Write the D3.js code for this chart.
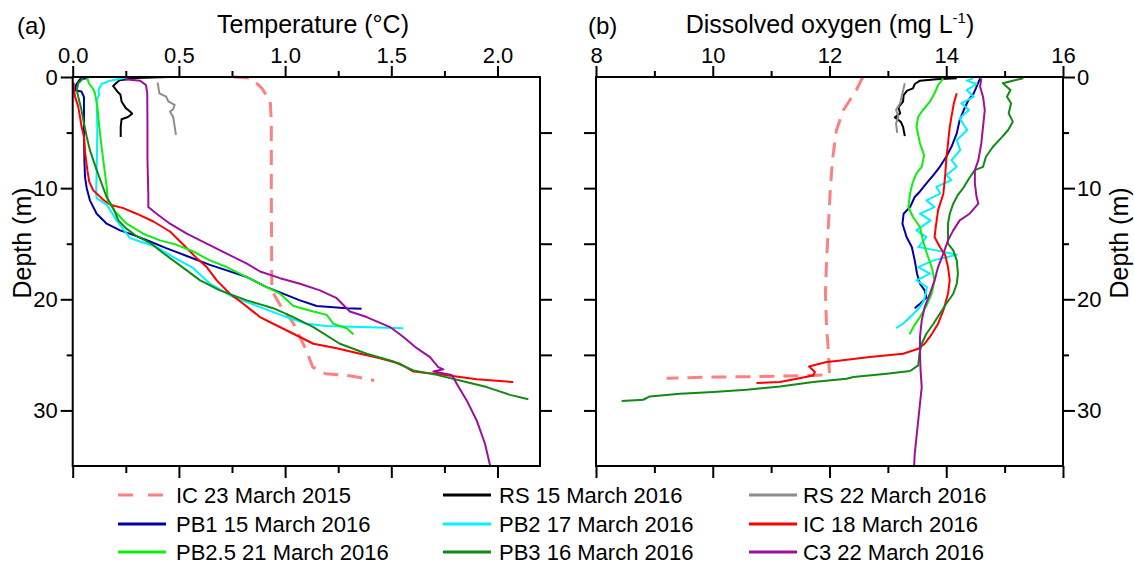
<!DOCTYPE html>
<html>
<head>
<meta charset="utf-8">
<script src="https://cdn.jsdelivr.net/npm/d3@7"></script>
<style>
  body { margin: 0; background: #fff; }
  svg { display: block; font-family: "Liberation Sans", Arial, sans-serif; }
</style>
</head>
<body>
<div id="chart"></div>
<script>
// Temperature profiles, each point is [temperature (°C), depth (m)]
var tIC2015 = [[0.76,0],[0.84,0.1],[0.89,1.0],[0.93,2.2],[0.935,4],[0.935,10],[0.937,18],[0.937,19.2],[0.976,20.5],[1.04,22.2],[1.10,24.6],[1.13,26.1],[1.19,26.7],[1.26,26.8],[1.31,26.9],[1.42,27.3]];
var tRS15 = [[0.45,0],[0.30,0.1],[0.22,0.3],[0.19,0.8],[0.21,1.3],[0.225,1.6],[0.23,2.2],[0.25,2.8],[0.27,3.1],[0.28,3.3],[0.26,3.6],[0.23,3.8],[0.226,4.5],[0.226,5.4]];
var tRS22 = [[0.40,0.5],[0.408,1.47],[0.44,1.77],[0.45,2.2],[0.48,2.5],[0.473,2.9],[0.458,3.1],[0.473,3.6],[0.478,4.2],[0.486,5.2]];
var tPB1 = [[0.074,0.1],[0.034,0.2],[0.016,0.7],[0.011,1.2],[0.041,1.3],[0.053,1.8],[0.053,4.5],[0.055,7.5],[0.058,9.0],[0.066,10.0],[0.081,11.1],[0.113,12.3],[0.16,13.2],[0.223,13.8],[0.285,14.2],[0.364,14.8],[0.44,15.4],[0.537,16.1],[0.646,16.9],[0.725,17.4],[0.82,18.0],[0.913,18.9],[1.07,20.1],[1.149,20.6],[1.29,20.8],[1.36,20.85]];
var tPB2 = [[0.262,0.03],[0.176,0.33],[0.136,0.63],[0.121,1.17],[0.125,1.62],[0.113,2.07],[0.116,4.48],[0.113,8.38],[0.11,10.5],[0.113,10.9],[0.16,11.5],[0.207,12.9],[0.27,14.5],[0.317,14.8],[0.395,15.3],[0.474,16.2],[0.568,17.2],[0.646,18.6],[0.756,19.8],[0.882,20.7],[1.007,21.6],[1.10,22.2],[1.196,22.4],[1.353,22.5],[1.557,22.6]];
var tIC18 = [[0.004,0.5],[0.006,1.17],[0.011,1.77],[0.026,2.67],[0.034,3.57],[0.042,4.48],[0.053,5.38],[0.059,6.87],[0.069,8.38],[0.078,9.43],[0.097,10.2],[0.144,11.05],[0.176,11.5],[0.238,11.8],[0.301,12.3],[0.38,13.0],[0.458,13.9],[0.521,15.1],[0.584,16.3],[0.631,17.1],[0.678,18.3],[0.74,19.5],[0.803,20.4],[0.882,21.6],[0.944,22.2],[1.039,23.1],[1.133,24.0],[1.243,24.4],[1.353,24.9],[1.447,25.3],[1.541,25.8],[1.604,26.5],[1.745,26.8],[1.902,27.2],[2.074,27.45]];
var tPB25 = [[0.066,0.03],[0.078,0.63],[0.097,1.1],[0.105,1.47],[0.116,2.67],[0.125,4.48],[0.136,6.28],[0.144,7.48],[0.152,8.68],[0.16,9.88],[0.165,11.1],[0.199,12.1],[0.254,13.2],[0.332,14.1],[0.411,14.7],[0.49,15.1],[0.568,15.7],[0.646,16.5],[0.725,17.1],[0.82,18.0],[0.913,18.9],[0.976,19.5],[1.039,20.6],[1.133,21.1],[1.196,21.4],[1.227,22.2],[1.29,22.6],[1.321,23.15]];
var tPB3 = [[0.05,0.12],[0.026,0.57],[0.019,1.17],[0.026,1.77],[0.038,2.67],[0.05,3.87],[0.066,5.38],[0.081,6.58],[0.097,7.48],[0.113,8.38],[0.136,9.58],[0.16,10.8],[0.191,11.8],[0.215,12.9],[0.25,13.6],[0.30,14.3],[0.37,15.0],[0.43,15.9],[0.537,17.4],[0.6,18.3],[0.693,19.2],[0.82,20.1],[0.944,20.8],[1.039,21.6],[1.133,22.5],[1.258,24.0],[1.384,24.9],[1.51,25.6],[1.604,26.4],[1.714,26.8],[1.823,27.3],[1.949,27.9],[2.059,28.6],[2.145,29.0]];
var tC3 = [[0.246,0.2],[0.317,0.33],[0.345,0.72],[0.351,1.47],[0.352,4.48],[0.352,7.48],[0.356,10.5],[0.356,11.7],[0.395,12.3],[0.458,13.2],[0.537,14.1],[0.631,15.0],[0.725,15.9],[0.82,16.8],[0.882,17.5],[0.976,18.1],[1.07,18.6],[1.164,19.2],[1.243,19.9],[1.305,21.1],[1.384,21.6],[1.494,22.5],[1.557,23.4],[1.62,24.4],[1.682,25.2],[1.721,26.1],[1.745,26.3],[1.698,26.5],[1.729,26.6],[1.784,26.8],[1.808,27.6],[1.855,29.1],[1.902,30.9],[1.941,33.0],[1.965,34.95]];

// Dissolved oxygen profiles, each point is [DO (mg/L), depth (m)]
var oIC2015 = [[12.57,0],[12.46,1.17],[12.24,2.97],[12.12,4.77],[12.05,7.48],[12.01,10.5],[11.98,13.5],[11.95,16.5],[11.93,19.5],[11.95,22.5],[11.98,24.6],[12.0,26.8],[11.72,26.85],[10.87,26.95],[10.01,27.0],[9.21,27.1]];
var oRS15 = [[14.18,0.12],[13.83,0.21],[13.55,0.33],[13.46,0.63],[13.43,1.02],[13.33,1.23],[13.27,1.62],[13.26,2.22],[13.18,2.73],[13.21,3.27],[13.12,3.63],[13.22,4.02],[13.26,4.48],[13.29,5.32]];
var oRS22 = [[13.29,0.57],[13.25,1.47],[13.21,2.37],[13.14,2.97],[13.18,3.57],[13.14,4.17],[13.16,5.02]];
var oPB1 = [[14.58,0.12],[14.52,0.87],[14.47,1.47],[14.38,2.07],[14.30,2.97],[14.23,3.87],[14.18,5.07],[14.09,6.28],[14.00,7.18],[13.89,8.08],[13.78,8.83],[13.66,9.58],[13.55,10.3],[13.46,10.8],[13.38,11.7],[13.27,12.3],[13.25,13.2],[13.32,14.4],[13.41,15.3],[13.46,16.5],[13.50,17.7],[13.55,18.6],[13.63,19.2],[13.66,19.85],[13.55,20.4],[13.46,20.8]];
var oPB2 = [[14.46,0.12],[14.35,0.33],[14.52,0.63],[14.35,1.17],[14.47,1.77],[14.26,2.37],[14.39,2.97],[14.23,3.72],[14.36,4.77],[14.18,5.68],[14.24,6.58],[14.09,7.48],[14.18,8.08],[14.00,8.83],[14.09,9.28],[13.83,9.88],[13.90,10.5],[13.66,11.1],[13.80,11.7],[13.55,12.3],[13.73,12.9],[13.49,13.8],[13.66,14.4],[13.52,15.3],[13.83,15.6],[14.18,16.0],[13.78,16.5],[13.52,17.1],[13.72,17.7],[13.49,18.3],[13.67,18.9],[13.62,20.1],[13.55,20.7],[13.43,21.35],[13.26,22.2],[13.14,22.6]];
var oIC18 = [[14.18,1.47],[14.13,2.37],[14.09,3.57],[14.06,4.48],[14.03,5.98],[14.00,7.48],[13.98,8.98],[13.95,10.5],[13.86,12.0],[13.82,13.5],[13.80,14.4],[13.89,15.3],[13.98,16.0],[14.03,17.1],[14.06,18.3],[14.03,19.5],[13.95,21.0],[13.86,22.2],[13.75,23.15],[13.63,24.0],[13.52,24.45],[13.26,24.9],[12.69,25.2],[12.12,25.55],[11.95,25.65],[11.78,25.86],[11.65,26.04],[11.75,26.55],[11.72,26.85],[11.44,27.15],[11.15,27.45],[10.75,27.54]];
var oPB25 = [[13.95,0.12],[13.86,0.72],[13.80,1.47],[13.72,2.22],[13.60,2.97],[13.52,3.57],[13.49,4.48],[13.55,5.98],[13.62,7.03],[13.58,8.08],[13.49,8.68],[13.42,9.58],[13.38,10.5],[13.35,11.7],[13.43,12.6],[13.55,13.5],[13.60,14.7],[13.67,15.9],[13.75,17.1],[13.80,18.3],[13.75,19.5],[13.65,20.7],[13.55,21.6],[13.46,22.3],[13.37,23.15]];
var oPB3 = [[15.32,0.12],[15.14,0.33],[14.97,0.57],[15.10,1.17],[15.04,1.77],[15.11,2.37],[15.07,3.27],[15.14,4.02],[15.06,4.77],[14.95,5.43],[14.80,6.28],[14.68,7.18],[14.63,8.08],[14.49,8.38],[14.39,9.13],[14.29,10.0],[14.20,10.6],[14.12,11.4],[14.06,12.3],[14.03,13.2],[14.03,15.0],[14.12,15.6],[14.18,16.5],[14.20,17.7],[14.18,18.6],[14.12,19.5],[14.00,20.4],[13.89,21.3],[13.78,22.2],[13.66,23.1],[13.58,24.0],[13.54,24.9],[13.52,25.95],[13.38,26.45],[12.98,26.7],[12.41,27.0],[12.29,27.15],[11.72,27.45],[11.15,27.84],[10.58,28.14],[10.01,28.35],[9.44,28.5],[8.92,28.74],[8.81,29.04],[8.44,29.16]];
var oC3 = [[14.60,0.12],[14.58,0.87],[14.63,1.77],[14.66,2.97],[14.63,4.48],[14.60,5.98],[14.55,7.48],[14.49,8.38],[14.49,9.58],[14.52,10.8],[14.55,11.4],[14.40,12.3],[14.23,12.9],[14.12,13.8],[14.03,14.7],[13.95,15.9],[13.86,17.1],[13.80,18.3],[13.72,19.5],[13.63,20.7],[13.58,21.9],[13.55,23.4],[13.55,24.9],[13.56,26.4],[13.58,27.9],[13.55,29.4],[13.52,30.9],[13.49,32.4],[13.46,33.9],[13.45,34.95]];

var seriesNames = ["IC 23 March 2015", "RS 15 March 2016", "RS 22 March 2016",
                   "PB1 15 March 2016", "PB2 17 March 2016", "IC 18 March 2016",
                   "PB2.5 21 March 2016", "PB3 16 March 2016", "C3 22 March 2016"];
var tempSeries = [tIC2015, tRS15, tRS22, tPB1, tPB2, tIC18, tPB25, tPB3, tC3];
var oxySeries = [oIC2015, oRS15, oRS22, oPB1, oPB2, oIC18, oPB25, oPB3, oC3];

var tempTicks = [0, 0.5, 1, 1.5, 2];
var tempMinor = [0.25, 0.75, 1.25, 1.75];
var oxyTicks = [8, 10, 12, 14, 16];
var oxyMinor = [9, 11, 13, 15];
var depthTicks = [0, 10, 20, 30];
var depthMinor = [5, 15, 25];
var depthAll = [5, 10, 15, 20, 25, 30];

// line styles, same order as the series
var colors = ["#ff8080", "#000000", "#8c8c8c", "#0000a6", "#00f2ff", "#ff0000", "#10ee10", "#138a13", "#9c109c"];

var W = 1134, H = 566;
var fontFamily = '"Liberation Sans", Arial, sans-serif';

var svg = d3.select("#chart").append("svg")
    .attr("width", W)
    .attr("height", H);

var yScale = d3.scaleLinear().domain([0, 35]).range([77, 466]);
var xTemp = d3.scaleLinear().domain([0, 2.2]).range([72.7, 540]);
var xOxy = d3.scaleLinear().domain([8, 16]).range([596, 1063]);

function styleAxis(g, size) {
  g.attr("font-size", size).attr("font-family", fontFamily);
  g.select(".domain").remove();
  g.selectAll("line").attr("stroke", "#000").attr("stroke-width", 2);
  g.selectAll("text").attr("fill", "#000");
}

function drawPanel(x, series, majors, minors, fmt, leftLabels) {
  var x0 = x.range()[0], x1 = x.range()[1];
  var y0 = yScale.range()[0], y1 = yScale.range()[1];

  // curves
  var line = d3.line()
      .x(function (d) { return x(d[0]); })
      .y(function (d) { return yScale(d[1]); });
  series.forEach(function (s, i) {
    svg.append("path")
       .attr("d", line(s))
       .attr("fill", "none")
       .attr("stroke", colors[i])
       .attr("stroke-width", i === 0 ? 3 : 2)
       .attr("stroke-dasharray", i === 0 ? "15,9" : null)
       .attr("stroke-linejoin", "round");
  });

  // frame
  svg.append("rect")
     .attr("x", x0).attr("y", y0)
     .attr("width", x1 - x0).attr("height", y1 - y0)
     .attr("fill", "none").attr("stroke", "#000").attr("stroke-width", 2);

  // top axis
  svg.append("g").attr("transform", "translate(0," + y0 + ")")
     .call(d3.axisTop(x).tickValues(majors).tickSize(11).tickPadding(3).tickFormat(fmt))
     .call(styleAxis, 22);
  svg.append("g").attr("transform", "translate(0," + y0 + ")")
     .call(d3.axisTop(x).tickValues(minors).tickSize(6).tickFormat(""))
     .call(styleAxis, 22);
  // bottom axis
  svg.append("g").attr("transform", "translate(0," + y1 + ")")
     .call(d3.axisBottom(x).tickValues(majors).tickSize(12).tickFormat(""))
     .call(styleAxis, 22);
  svg.append("g").attr("transform", "translate(0," + y1 + ")")
     .call(d3.axisBottom(x).tickValues(minors).tickSize(7).tickFormat(""))
     .call(styleAxis, 22);

  if (leftLabels) {
    svg.append("g").attr("transform", "translate(" + x0 + ",0)")
       .call(d3.axisLeft(yScale).tickValues(depthTicks).tickSize(12).tickPadding(3))
       .call(styleAxis, 22);
    svg.append("g").attr("transform", "translate(" + x0 + ",0)")
       .call(d3.axisLeft(yScale).tickValues(depthMinor).tickSize(6).tickFormat(""))
       .call(styleAxis, 22);
    svg.append("g").attr("transform", "translate(" + x1 + ",0)")
       .call(d3.axisRight(yScale).tickValues(depthAll).tickSize(12).tickFormat(""))
       .call(styleAxis, 22);
  } else {
    svg.append("g").attr("transform", "translate(" + x0 + ",0)")
       .call(d3.axisLeft(yScale).tickValues(depthAll).tickSize(12).tickFormat(""))
       .call(styleAxis, 22);
    svg.append("g").attr("transform", "translate(" + x1 + ",0)")
       .call(d3.axisRight(yScale).tickValues(depthTicks).tickSize(12).tickPadding(2))
       .call(styleAxis, 22);
    svg.append("g").attr("transform", "translate(" + x1 + ",0)")
       .call(d3.axisRight(yScale).tickValues(depthMinor).tickSize(6).tickFormat(""))
       .call(styleAxis, 22);
  }
}

drawPanel(xTemp, tempSeries, tempTicks, tempMinor, d3.format(".1f"), true);
drawPanel(xOxy, oxySeries, oxyTicks, oxyMinor, d3.format("d"), false);

// panel letters and titles
svg.append("text").attr("x", 17).attr("y", 34)
   .attr("font-size", 24).text("(a)");
svg.append("text").attr("x", 588).attr("y", 34)
   .attr("font-size", 24).text("(b)");

svg.append("text")
   .attr("x", 313).attr("y", 33)
   .attr("font-size", 25)
   .attr("text-anchor", "middle")
   .text("Temperature (\u00B0C)");

var oxyTitle = svg.append("text")
   .attr("x", 830).attr("y", 33)
   .attr("font-size", 25)
   .attr("text-anchor", "middle");
oxyTitle.append("tspan").text("Dissolved oxygen (mg L");
oxyTitle.append("tspan").attr("dy", -10).attr("font-size", 15).text("-1");
oxyTitle.append("tspan").attr("dy", 10).text(")");

svg.append("text")
   .attr("transform", "translate(31,243) rotate(-90)")
   .attr("font-size", 25)
   .attr("text-anchor", "middle")
   .text("Depth (m)");
svg.append("text")
   .attr("transform", "translate(1128,243) rotate(-90)")
   .attr("font-size", 25)
   .attr("text-anchor", "middle")
   .text("Depth (m)");

// legend, 3 columns x 3 rows
var colLineX = [118, 443, 749];
var colTextX = [176, 499, 803];
var rowY = [495, 524, 552];
var legend = svg.append("g").attr("class", "legend");
seriesNames.forEach(function (name, i) {
  var c = i % 3, r = Math.floor(i / 3);
  legend.append("line")
        .attr("x1", colLineX[c]).attr("x2", colLineX[c] + 48)
        .attr("y1", rowY[r]).attr("y2", rowY[r])
        .attr("stroke", colors[i])
        .attr("stroke-width", 3)
        .attr("stroke-dasharray", i === 0 ? "15,15" : null);
  legend.append("text")
        .attr("x", colTextX[c]).attr("y", rowY[r])
        .attr("dy", "0.35em")
        .attr("font-size", 22)
        .text(name);
});
</script>
</body>
</html>
